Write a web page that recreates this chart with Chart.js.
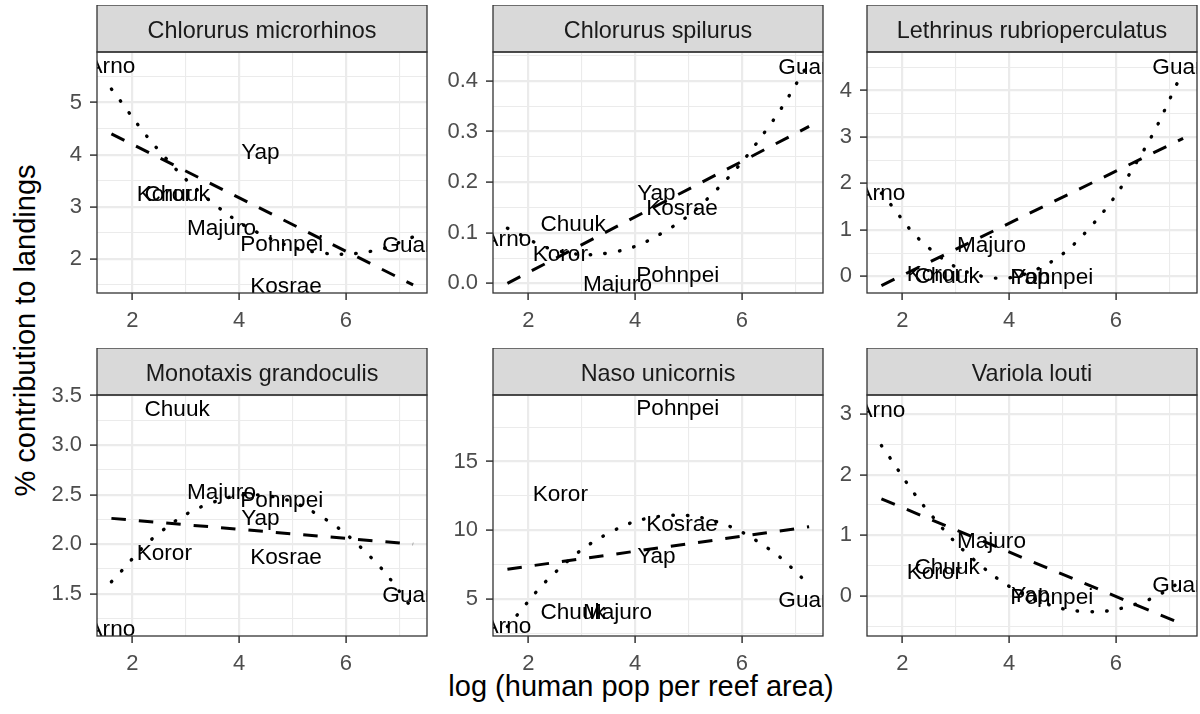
<!DOCTYPE html>
<html>
<head>
<meta charset="utf-8">
<script src="https://cdn.jsdelivr.net/npm/chart.js@4.4.1/dist/chart.umd.min.js"></script>
<style>
    html, body { margin: 0; padding: 0; background: #fff; overflow: hidden; }
    body { width: 1200px; height: 714px; position: relative; font-family: "Liberation Sans", Arial, sans-serif; }
    canvas { position: absolute; }
    .xtitle { position: absolute; left: 341px; top: 672px; width: 600px; height: 29px; line-height: 29px;
              font-size: 29px; text-align: center; color: #000; white-space: nowrap; }
    .ytitle { position: absolute; left: -225px; top: 316px; width: 500px; height: 29px; line-height: 29px;
              font-size: 29px; text-align: center; color: #000; white-space: nowrap; transform: rotate(-90deg); }
</style>
</head>
<body>
<div class="xtitle">log (human pop per reef area)</div>
<div class="ytitle">% contribution to landings</div>
<script>
// sites and their x value
var sites = ['Arno', 'Koror', 'Chuuk', 'Majuro', 'Yap', 'Pohnpei', 'Kosrae', 'Guam'];
var logPop = [1.61, 2.6, 2.84, 3.67, 4.4, 4.8, 4.88, 7.26];

var species = ['Chlorurus microrhinos', 'Chlorurus spilurus', 'Lethrinus rubrioperculatus',
               'Monotaxis grandoculis', 'Naso unicornis', 'Variola louti'];

// % contribution to landings, same order as sites (null = no value)
var microrhinos = [5.72, 3.27, 3.27, 2.62, 4.07, 2.31, 1.51, 2.29];
var spilurus = [0.09, 0.061, 0.12, 0.0, 0.18, 0.018, 0.152, 0.43];
var rubrioperculatus = [1.81, 0.08, 0.03, 0.70, 0.0, 0.0, null, 4.52];
var grandoculis = [1.15, 1.92, 3.38, 2.54, 2.27, 2.46, 1.88, 1.5];
var unicornis = [3.12, 12.73, 4.13, 4.13, 8.19, 18.94, 10.54, 5.05];
var louti = [3.09, 0.42, 0.5, 0.93, 0.03, 0.0, null, 0.19];

// dotted curve (quadratic fit) read along x
var fitX = [1.61, 2.5, 3.5, 4.5, 5.5, 6.5, 7.26];
var quadMicrorhinos = [5.26, 4.08, 3.08, 2.43, 2.12, 2.15, 2.42];
var quadSpilurus = [0.109, 0.066, 0.060, 0.099, 0.182, 0.309, 0.436];
var quadRubrioperculatus = [1.79, 0.61, 0.0, 0.14, 1.03, 2.67, 4.42];
var quadGrandoculis = [1.62, 2.11, 2.42, 2.49, 2.29, 1.85, 1.34];
var quadUnicornis = [3.03, 6.93, 9.79, 11.03, 10.66, 8.67, 6.08];
var quadLouti = [2.48, 1.38, 0.48, -0.06, -0.26, -0.10, 0.25];

// dashed straight line (linear fit)
var lineX = [1.61, 7.26];
var linMicrorhinos = [4.40, 1.50];
var linSpilurus = [0.0, 0.31];
var linRubrioperculatus = [-0.20, 2.97];
var linGrandoculis = [2.26, 2.0];
var linUnicornis = [7.18, 10.26];
var linLouti = [1.60, -0.47];

// axes
var xMin = 1.34, xMax = 7.52;
var xTicks = [2, 4, 6];
var xTickLabels = ['2', '4', '6'];
var xMinor = [3, 5, 7];
var yMin = [1.345, -0.019, -0.36, 1.072, 2.33, -0.661];
var yMax = [5.97, 0.457, 4.83, 3.506, 19.83, 3.313];
var yTicks = [[2, 3, 4, 5], [0, 0.1, 0.2, 0.3, 0.4], [0, 1, 2, 3, 4], [1.5, 2, 2.5, 3, 3.5], [5, 10, 15], [0, 1, 2, 3]];
var yTickLabels = [['2', '3', '4', '5'], ['0.0', '0.1', '0.2', '0.3', '0.4'], ['0', '1', '2', '3', '4'],
                   ['1.5', '2.0', '2.5', '3.0', '3.5'], ['5', '10', '15'], ['0', '1', '2', '3']];
var yMinor = [[1.5, 2.5, 3.5, 4.5, 5.5], [0.05, 0.15, 0.25, 0.35, 0.45], [0.5, 1.5, 2.5, 3.5, 4.5],
              [1.25, 1.75, 2.25, 2.75, 3.25], [2.5, 7.5, 12.5, 17.5], [-0.5, 0.5, 1.5, 2.5]];

var pctData = [microrhinos, spilurus, rubrioperculatus, grandoculis, unicornis, louti];
var quadData = [quadMicrorhinos, quadSpilurus, quadRubrioperculatus, quadGrandoculis, quadUnicornis, quadLouti];
var linData = [linMicrorhinos, linSpilurus, linRubrioperculatus, linGrandoculis, linUnicornis, linLouti];

var FONT = '"Liberation Sans", Arial, sans-serif';
var STRIP_H = 47;
var PANEL_W = 330, PANEL_H = 241;
var AXIS_W = 70, AXIS_H = 50;
var colLeft = [97, 493, 867];
var rowTop = [5, 348];

// strip, panel border and site names
var panelDecor = {
    id: 'panelDecor',
    beforeDraw: function (chart) {
        var a = chart.chartArea, ctx = chart.ctx;
        ctx.save();
        ctx.fillStyle = '#ffffff';
        ctx.fillRect(a.left, a.top, a.right - a.left, a.bottom - a.top);
        ctx.restore();
    },
    beforeDatasetsDraw: function (chart) {
        var a = chart.chartArea, ctx = chart.ctx;
        var ds = chart.data.datasets[2];
        var pts = chart.getDatasetMeta(2).data;
        ctx.save();
        ctx.beginPath();
        ctx.rect(a.left, a.top, a.right - a.left, a.bottom - a.top);
        ctx.clip();
        ctx.fillStyle = '#000';
        ctx.font = '22.6px ' + FONT;
        ctx.textAlign = 'center';
        ctx.textBaseline = 'alphabetic';
        for (var i = 0; i < pts.length; i++) {
            ctx.fillText(ds.data[i].name, pts[i].x, pts[i].y + 8.1);
        }
        ctx.restore();
    },
    afterDraw: function (chart, args, opts) {
        var a = chart.chartArea, ctx = chart.ctx;
        ctx.save();
        ctx.fillStyle = '#D9D9D9';
        ctx.fillRect(a.left, a.top - STRIP_H, a.right - a.left, STRIP_H);
        ctx.strokeStyle = '#333333';
        ctx.lineWidth = 1.3;
        ctx.strokeRect(a.left, a.top - STRIP_H, a.right - a.left, STRIP_H);
        ctx.strokeRect(a.left, a.top, a.right - a.left, a.bottom - a.top);
        ctx.fillStyle = '#1A1A1A';
        ctx.font = '23.4px ' + FONT;
        ctx.textAlign = 'center';
        ctx.textBaseline = 'alphabetic';
        ctx.fillText(opts.title, (a.left + a.right) / 2, a.top - STRIP_H + 33);
        ctx.restore();
    }
};

function gridOpts(major) {
    return {
        color: '#EBEBEB',
        lineWidth: function (c) { return major.indexOf(c.tick.value) >= 0 ? 2.2 : 1.1; },
        tickColor: function (c) { return major.indexOf(c.tick.value) >= 0 ? '#333333' : 'rgba(0,0,0,0)'; },
        tickWidth: 1.5,
        tickLength: 7,
        drawTicks: true
    };
}

function drawPanel(p) {
    var col = p % 3, row = Math.floor(p / 3);
    var canvas = document.createElement('canvas');
    var w = AXIS_W + PANEL_W + 3, h = STRIP_H + PANEL_H + AXIS_H;
    canvas.width = w;
    canvas.height = h;
    canvas.style.left = (colLeft[col] - AXIS_W) + 'px';
    canvas.style.top = rowTop[row] + 'px';
    document.body.appendChild(canvas);

    var labelPts = [];
    for (var i = 0; i < sites.length; i++) {
        if (pctData[p][i] !== null) labelPts.push({ x: logPop[i], y: pctData[p][i], name: sites[i] });
    }
    var quadPts = fitX.map(function (x, i) { return { x: x, y: quadData[p][i] }; });
    var linPts = lineX.map(function (x, i) { return { x: x, y: linData[p][i] }; });

    var yMaj = yTicks[p], yLab = yTickLabels[p];
    var yAll = yMaj.concat(yMinor[p]).sort(function (a, b) { return a - b; });
    var xAll = xTicks.concat(xMinor).sort(function (a, b) { return a - b; });

    new Chart(canvas.getContext('2d'), {
        type: 'scatter',
        data: {
            datasets: [
                { type: 'line', data: quadPts, borderColor: '#000', borderWidth: 3.4, borderDash: [0.5, 14.2],
                  borderCapStyle: 'round', pointRadius: 0, tension: 0.4, fill: false },
                { type: 'line', data: linPts, borderColor: '#000', borderWidth: 3, borderDash: [14.5, 13],
                  borderCapStyle: 'butt', pointRadius: 0, tension: 0, fill: false },
                { data: labelPts, pointRadius: 0, pointHoverRadius: 0 }
            ]
        },
        options: {
            responsive: false,
            animation: false,
            devicePixelRatio: 1,
            events: [],
            layout: { padding: { top: STRIP_H, right: 3, left: 0, bottom: 0 } },
            plugins: {
                legend: { display: false },
                tooltip: { enabled: false },
                panelDecor: { title: species[p] }
            },
            scales: {
                x: {
                    type: 'linear', min: xMin, max: xMax,
                    afterBuildTicks: function (s) { s.ticks = xAll.map(function (v) { return { value: v }; }); },
                    afterFit: function (s) { s.height = AXIS_H; },
                    ticks: {
                        autoSkip: false, maxRotation: 0, padding: 8, color: '#4D4D4D',
                        font: { family: FONT, size: 22 },
                        callback: function (v) { var k = xTicks.indexOf(v); return k >= 0 ? xTickLabels[k] : ''; }
                    },
                    grid: gridOpts(xTicks),
                    border: { display: false }
                },
                y: {
                    type: 'linear', min: yMin[p], max: yMax[p],
                    afterBuildTicks: function (s) { s.ticks = yAll.map(function (v) { return { value: v }; }); },
                    afterFit: function (s) { s.width = AXIS_W; },
                    ticks: {
                        autoSkip: false, padding: 8, color: '#4D4D4D',
                        font: { family: FONT, size: 22 },
                        callback: function (v) { var k = yMaj.indexOf(v); return k >= 0 ? yLab[k] : ''; }
                    },
                    grid: gridOpts(yMaj),
                    border: { display: false }
                }
            }
        },
        plugins: [panelDecor]
    });
}

for (var p = 0; p < species.length; p++) {
    drawPanel(p);
}
</script>
</body>
</html>
